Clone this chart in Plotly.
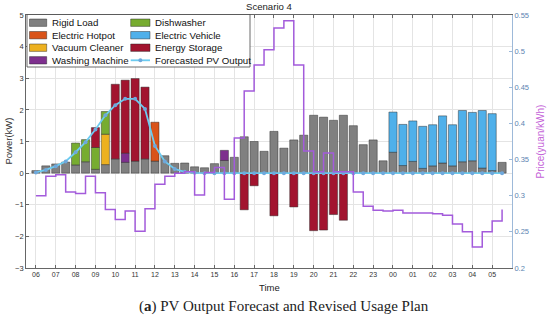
import plotly.graph_objects as go

# ---------------- data ----------------
hour_labels = ["06", "07", "08", "09", "10", "11", "12", "13", "14", "15", "16", "17",
               "18", "19", "20", "21", "22", "23", "00", "01", "02", "03", "04", "05"]
slots = list(range(48))  # half-hour slots starting 06:00

rigid_load = [0.08, 0.23, 0.29, 0.35, 0.26, 0.36, 0.12, 0.27, 0.45, 0.34, 0.38, 0.45,
              0.38, 0.55, 0.31, 0.32, 0.20, 0.17, 0.30, 0.40, 0.50, 1.15, 1.00, 0.69,
              1.32, 0.79, 1.05, 1.20, 1.83, 1.77, 1.67, 1.83, 1.50, 0.90, 1.05, 0.39,
              0.66, 0.24, 0.37, 0.15, 0.23, 0.32, 0.23, 0.36, 0.39, 0.16, 0.08, 0.34]
electric_hotpot = [0] * 12 + [1.23] + [0] * 35
vacuum_cleaner = [0] * 7 + [0.96] + [0] * 40
washing_machine = [0] * 9 + [0.29] + [0] * 9 + [0.32] + [0] * 28
dishwasher = [0] * 4 + [0.69, 0.70, 0.69, 0.72] + [0] * 40
electric_vehicle = [0] * 36 + [1.27, 1.30, 1.28, 1.33, 1.30, 1.49, 1.30, 1.62, 1.53, 1.82, 1.80] + [0]
energy_storage = [0, 0, 0, 0, 0, 0, 0.63, 0, 2.36, 2.31, 2.61, 2.27,
                  0, 0, 0, 0, 0, 0, 0, 0, 0, -1.16, -0.40, 0,
                  -1.35, 0, -1.07, 0, -1.82, -1.80, -1.31, -1.49, 0, 0, 0, 0,
                  0, 0, 0, 0, 0, 0, 0, 0, 0, 0, 0, 0]
pv_forecast = [0.02, 0.10, 0.22, 0.37, 0.66, 0.98, 1.38, 1.83, 2.15, 2.35, 2.35, 2.03,
               0.86, 0.37, 0.13, 0.04, 0.01] + [0.0] * 31
price = [0.300, 0.327, 0.329, 0.305, 0.303, 0.327, 0.304, 0.281, 0.267, 0.279, 0.251, 0.282,
         0.316, 0.327, 0.331, 0.333, 0.301, 0.332, 0.339, 0.295, 0.380, 0.445, 0.481, 0.502,
         0.532, 0.542, 0.481, 0.362, 0.333, 0.359, 0.333, 0.333, 0.305, 0.2855, 0.280, 0.279,
         0.280, 0.276, 0.276, 0.276, 0.275, 0.273, 0.261, 0.250, 0.229, 0.250, 0.265, 0.281]
power_ticks = [-3, -2, -1, 0, 1, 2, 3, 4, 5]
price_ticks = [0.2, 0.25, 0.3, 0.35, 0.4, 0.45, 0.5, 0.55]

series_names = ["Rigid Load", "Electric Hotpot", "Vacuum Cleaner", "Washing Machine",
                "Dishwasher", "Electric Vehicle", "Energy Storage"]
series_values = [rigid_load, electric_hotpot, vacuum_cleaner, washing_machine,
                 dishwasher, electric_vehicle, energy_storage]
series_colors = ["#808080", "#D95319", "#EDB120", "#7E2F8E", "#77AC30", "#4FB0EA", "#A2142F"]
pv_name = "Forecasted PV Output"

# ---------------- layout geometry (page pixels) ----------------
W, H = 550, 320
PL, PR, PT, PB = 26, 512, 15, 268          # plot box in pixels
ML, MR, MT, MB = PL, W - PR, PT, H - PB
PW, PH = PR - PL, PB - PT


def px_x(p):
    return (p - PL) / PW


def px_y(p):
    return 1 - (p - PT) / PH


FONT = "Liberation Sans, Arial, sans-serif"
EDGE = "rgba(35,35,35,0.75)"

fig = go.Figure()
for name, vals, col in zip(series_names, series_values, series_colors):
    fig.add_trace(go.Bar(
        x=slots, y=[v if v != 0 else None for v in vals], name=name,
        width=0.82, marker=dict(color=col, line=dict(color=EDGE, width=0.6)),
        showlegend=False))

fig.add_trace(go.Scatter(
    x=slots, y=pv_forecast, name=pv_name, mode="lines+markers",
    line=dict(color="#6CCBF0", width=1.8), marker=dict(size=4, color="#6FA8DC"),
    showlegend=False))

fig.add_trace(go.Scatter(
    x=slots, y=price, name="Price", yaxis="y2", mode="lines",
    line=dict(shape="hv", color="#A35BDB", width=1.5), showlegend=False))

# ---------------- manual legend (two columns) ----------------
shapes = []
annotations = []
box = dict(x0=27, x1=250, y0=14.5, y1=67)
shapes.append(dict(type="rect", xref="paper", yref="paper",
                   x0=px_x(box["x0"]), x1=px_x(box["x1"]),
                   y0=px_y(box["y1"]), y1=px_y(box["y0"]),
                   fillcolor="white", line=dict(color="#444", width=0.8), layer="above"))
row_y = [22.7, 35.2, 47.7, 60.3]
col_sw = [(29.5, 46.7), (130.7, 150.0)]
col_tx = [50.0, 152.7]
entries = [(n, c) for n, c in zip(series_names, series_colors)] + [(pv_name, None)]
for k, (name, col) in enumerate(entries):
    c, r = divmod(k, 4)
    yc = row_y[r]
    sx0, sx1 = col_sw[c]
    if col is not None:
        shapes.append(dict(type="rect", xref="paper", yref="paper",
                           x0=px_x(sx0), x1=px_x(sx1), y0=px_y(yc + 3.7), y1=px_y(yc - 3.7),
                           fillcolor=col, line=dict(color=EDGE, width=0.6), layer="above"))
    else:
        shapes.append(dict(type="line", xref="paper", yref="paper",
                           x0=px_x(sx0), x1=px_x(sx1), y0=px_y(yc), y1=px_y(yc),
                           line=dict(color="#6CCBF0", width=1.8), layer="above"))
        xm = (sx0 + sx1) / 2
        shapes.append(dict(type="circle", xref="paper", yref="paper",
                           x0=px_x(xm - 2), x1=px_x(xm + 2), y0=px_y(yc + 2), y1=px_y(yc - 2),
                           fillcolor="#6FA8DC", line=dict(width=0), layer="above"))
    annotations.append(dict(text=name, xref="paper", yref="paper", x=px_x(col_tx[c]),
                            y=px_y(yc), xanchor="left", yanchor="middle", showarrow=False,
                            font=dict(family=FONT, size=9.7, color="#111")))

annotations.append(dict(text="Scenario 4", xref="paper", yref="paper", x=px_x(269.7),
                        y=px_y(7), xanchor="center", yanchor="middle", showarrow=False,
                        font=dict(family=FONT, size=9.6, color="#222")))
annotations.append(dict(text="Power(kW)", xref="paper", yref="paper", x=px_x(8),
                        y=px_y(141.5), xanchor="center", yanchor="middle", showarrow=False,
                        textangle=-90, font=dict(family=FONT, size=9.5, color="#333")))
annotations.append(dict(text="Price(yuan/kWh)", xref="paper", yref="paper", x=px_x(540),
                        y=px_y(141.5), xanchor="center", yanchor="middle", showarrow=False,
                        textangle=-90, font=dict(family=FONT, size=10, color="#C462D8")))
annotations.append(dict(text="Time", xref="paper", yref="paper", x=px_x(269),
                        y=px_y(287), xanchor="center", yanchor="middle", showarrow=False,
                        font=dict(family=FONT, size=9.5, color="#222")))
annotations.append(dict(text="(<b>a</b>) PV Output Forecast and Revised Usage Plan",
                        xref="paper", yref="paper", x=px_x(284), y=px_y(306),
                        xanchor="center", yanchor="middle", showarrow=False,
                        font=dict(family="Liberation Serif, Times New Roman, serif",
                                  size=15, color="#222")))

fig.update_layout(
    width=W, height=H, margin=dict(l=ML, r=MR, t=MT, b=MB, pad=0),
    paper_bgcolor="white", plot_bgcolor="white",
    barmode="relative", bargap=0.18,
    font=dict(family=FONT, color="#333"),
    shapes=shapes, annotations=annotations,
    xaxis=dict(range=[-1, 48], tickmode="array", tickvals=slots[::2], ticktext=hour_labels,
               ticks="inside", ticklen=3, tickcolor="#666", showline=True, linecolor="#666",
               linewidth=0.8, mirror="ticks", showgrid=True, gridcolor="#E4E4E4",
               gridwidth=0.8, zeroline=False, tickfont=dict(size=7, color="#333"),
               automargin=False),
    yaxis=dict(range=[-3, 5], tickmode="array", tickvals=power_ticks,
               ticks="inside", ticklen=3, tickcolor="#666", showline=True, linecolor="#666",
               linewidth=0.8, showgrid=True, gridcolor="#E4E4E4", gridwidth=0.8,
               zeroline=False, tickfont=dict(size=7.5, color="#333"), automargin=False),
    yaxis2=dict(range=[0.2, 0.55], overlaying="y", side="right", tickmode="array",
                tickvals=price_ticks, ticktext=[f"{t:g}" for t in price_ticks],
                ticks="inside", ticklen=3, tickcolor="#9DB9D9", showline=True,
                linecolor="#9DB9D9", linewidth=0.8, showgrid=False, zeroline=False,
                tickfont=dict(size=7.5, color="#5B84B1"), automargin=False),
)

fig.write_html("out.html",
               config={"displayModeBar": False},
               post_script="document.body.style.margin='0px';"
                           "document.documentElement.style.overflow='hidden';")
